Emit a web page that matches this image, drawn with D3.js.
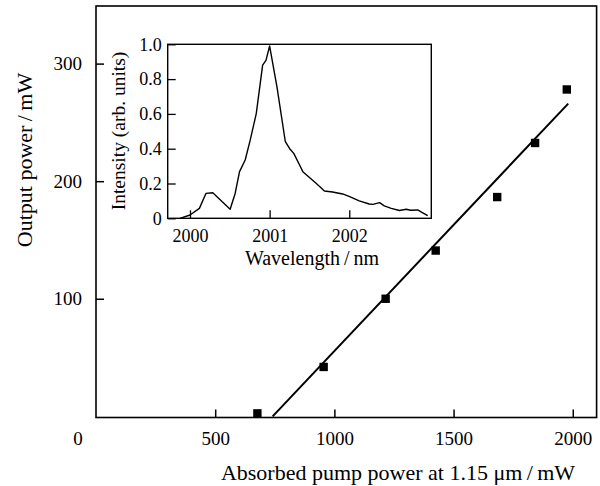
<!DOCTYPE html>
<html><head><meta charset="utf-8">
<script src="https://cdn.jsdelivr.net/npm/d3@7"></script>
<style>body{margin:0;background:#fff}svg{display:block}text{font-family:"Liberation Serif","Times New Roman",serif;fill:#000}</style>
</head><body><svg id="c" width="600" height="486"></svg>
<script>
// Main plot data
const pumpPower = [677, 955, 1215, 1425, 1683, 1842, 1975];
const outputPower = [2.5, 42, 100, 141, 186.5, 232.5, 278];
const fitPump = [741, 1981];
const fitOutput = [0, 266];
const xTicks = [500, 1000, 1500, 2000];
const yTicks = [100, 200, 300];
// Inset spectrum data
const wavelength = [1999.874, 2000.0, 2000.118, 2000.2, 2000.286, 2000.504, 2000.567, 2000.622, 2000.693, 2000.756, 2000.832, 2000.912, 2000.954, 2001.0, 2001.092, 2001.197, 2001.252, 2001.303, 2001.387, 2001.417, 2001.583, 2001.688, 2001.79, 2001.917, 2002.005, 2002.125, 2002.25, 2002.297, 2002.38, 2002.44, 2002.527, 2002.63, 2002.715, 2002.77, 2002.86, 2002.917, 2002.985];
const intensity = [0, 0.019, 0.057, 0.143, 0.147, 0.052, 0.143, 0.268, 0.335, 0.449, 0.602, 0.88, 0.908, 0.99, 0.755, 0.44, 0.40, 0.373, 0.296, 0.268, 0.201, 0.157, 0.151, 0.14, 0.124, 0.10, 0.082, 0.08, 0.09, 0.071, 0.057, 0.045, 0.052, 0.046, 0.048, 0.033, 0.015];
const insetXTicks = [2000, 2001, 2002];
const insetYTicks = [0, 0.2, 0.4, 0.6, 0.8, 1.0];

const svg = d3.select("#c");
const x = d3.scaleLinear().domain([0, 2100]).range([96, 596.6]);
const y = d3.scaleLinear().domain([-1, 349]).range([417.5, 6]);

// frame
svg.append("rect").attr("x", 96).attr("y", 6).attr("width", 596.6 - 96).attr("height", 417.5 - 6)
  .attr("fill", "none").attr("stroke", "#000").attr("stroke-width", 1.6);

// x axis ticks (inward)
const gx = svg.append("g").attr("transform", "translate(0,417.5)")
  .call(d3.axisBottom(x).tickValues(xTicks).tickSizeInner(-8).tickSizeOuter(0).tickPadding(14).tickFormat(d3.format("d")));
gx.select(".domain").remove();
gx.selectAll("line").attr("stroke-width", 1.5);
gx.selectAll("text").attr("font-size", 19);

const gy = svg.append("g").attr("transform", "translate(96,0)")
  .call(d3.axisLeft(y).tickValues(yTicks).tickSizeInner(-8).tickSizeOuter(0).tickPadding(14).tickFormat(d3.format("d")));
gy.select(".domain").remove();
gy.selectAll("line").attr("stroke-width", 1.5);
gy.selectAll("text").attr("font-size", 19);

svg.append("text").attr("x", x(0) - 18).attr("y", 445).attr("text-anchor", "middle").attr("font-size", 19).text("0");

// fit line
svg.append("line").attr("x1", x(fitPump[0])).attr("y1", y(fitOutput[0])).attr("x2", x(fitPump[1])).attr("y2", y(fitOutput[1]))
  .attr("stroke", "#000").attr("stroke-width", 2);

// points
svg.append("g").selectAll("rect").data(pumpPower).join("rect")
  .attr("x", (d) => x(d) - 4.2).attr("y", (d, i) => y(outputPower[i]) - 4.2)
  .attr("width", 8.4).attr("height", 8.4).attr("fill", "#000");

// axis titles
svg.append("text").attr("x", 398).attr("y", 480).attr("text-anchor", "middle").attr("font-size", 22)
  .text("Absorbed pump power at 1.15 μm\u2009/\u2009mW");
svg.append("text").attr("transform", "translate(32,160) rotate(-90)").attr("text-anchor", "middle").attr("font-size", 22)
  .text("Output power\u2009/\u2009mW");

// inset
const xi = d3.scaleLinear().domain([1999.72, 2003.03]).range([167.7, 431.3]);
const yi = d3.scaleLinear().domain([0, 1]).range([218.3, 44.3]);
svg.append("rect").attr("x", 167.7).attr("y", 44.3).attr("width", 431.3 - 167.7).attr("height", 218.3 - 44.3)
  .attr("fill", "#fff").attr("stroke", "#000").attr("stroke-width", 1.4);

const gxi = svg.append("g").attr("transform", "translate(0,218.3)")
  .call(d3.axisBottom(xi).tickValues(insetXTicks).tickSizeInner(-8).tickSizeOuter(0).tickPadding(10.5).tickFormat(d3.format("d")));
gxi.select(".domain").remove();
gxi.selectAll("line").attr("stroke-width", 1.3);
gxi.selectAll("text").attr("font-size", 18);

const gyi = svg.append("g").attr("transform", "translate(167.7,0)")
  .call(d3.axisLeft(yi).tickValues(insetYTicks).tickSizeInner(-8).tickSizeOuter(0).tickPadding(6)
    .tickFormat((d) => d === 0 ? "0" : d3.format(".1f")(d)));
gyi.select(".domain").remove();
gyi.selectAll("line").attr("stroke-width", 1.3);
gyi.selectAll("text").attr("font-size", 18);

svg.append("path").datum(wavelength)
  .attr("d", d3.line().x((d) => xi(d)).y((d, i) => yi(intensity[i])))
  .attr("fill", "none").attr("stroke", "#000").attr("stroke-width", 1.4).attr("stroke-linejoin", "round");

svg.append("text").attr("x", 312).attr("y", 265).attr("text-anchor", "middle").attr("font-size", 20)
  .text("Wavelength\u2009/\u2009nm");
svg.append("text").attr("transform", "translate(125,131) rotate(-90)").attr("text-anchor", "middle").attr("font-size", 19.5)
  .text("Intensity (arb. units)");
</script></body></html>
